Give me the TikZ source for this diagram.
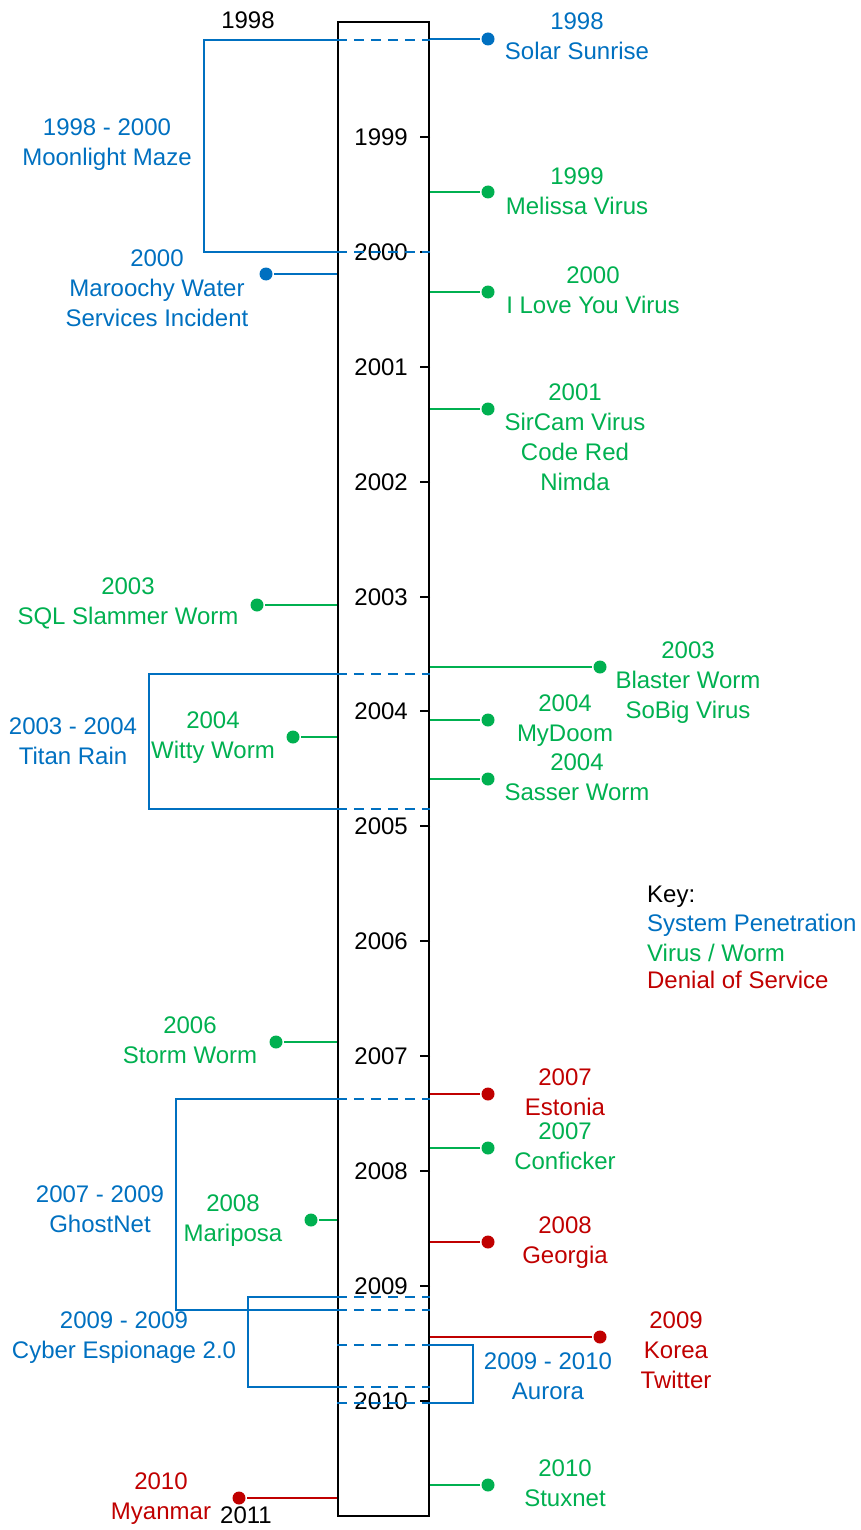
\documentclass[tikz,border=0pt]{standalone}
\usepackage{fontspec}
\setmainfont{Liberation Sans}
\definecolor{penBlue}{RGB}{0,112,192}
\definecolor{virGreen}{RGB}{0,176,80}
\definecolor{dosRed}{RGB}{192,0,0}
\tikzset{
	lbl/.style={inner sep=0pt, align=center, font=\fontsize{12}{15}\selectfont},
	dot/.style={circle, fill, inner sep=0pt, minimum size=6.5pt},
	span/.style={dash pattern=on 5pt off 3.5pt},
	thinlink/.style={line width=.6pt}
}
\begin{document}
\begin{tikzpicture}[x=.5pt, y=-.5pt, line width=1.15pt]
	\useasboundingbox (0,0) rectangle (861,1530);
	\node[draw, line width=1.2pt, inner sep=0pt, minimum width=45.5pt, minimum height=747pt] (axis) at (383.5,769) {};
	\node[lbl] (y1998) at (248,20) {1998};
	\node[lbl, anchor=east] (y1999) at (409,137) {1999};
	\node[lbl, anchor=east] (y2000) at (409,252) {2000};
	\node[lbl, anchor=east] (y2001) at (409,367) {2001};
	\node[lbl, anchor=east] (y2002) at (409,482) {2002};
	\node[lbl, anchor=east] (y2003) at (409,597) {2003};
	\node[lbl, anchor=east] (y2004) at (409,711) {2004};
	\node[lbl, anchor=east] (y2005) at (409,826) {2005};
	\node[lbl, anchor=east] (y2006) at (409,941) {2006};
	\node[lbl, anchor=east] (y2007) at (409,1056) {2007};
	\node[lbl, anchor=east] (y2008) at (409,1171) {2008};
	\node[lbl, anchor=east] (y2009) at (409,1286) {2009};
	\node[lbl, anchor=east] (y2010) at (409,1401) {2010};
	\node[lbl] (y2011) at (246,1515) {2011};
	\foreach \yr in {1999,2000,...,2010}
		\draw (axis.east |- y\yr) -- ++(-10,0);
	% system penetration
	\coordinate (mazeTop) at (204,40);
	\coordinate (mazeBot) at (204,252);
	\draw[penBlue] (axis.west |- mazeTop) -- (mazeTop) -- (mazeBot) -- (axis.west |- mazeBot);
	\draw[penBlue, span] (axis.west |- mazeTop) -- (axis.east |- mazeTop);
	\draw[penBlue, span] (axis.west |- mazeBot) -- (axis.east |- mazeBot);
	\node[lbl, penBlue] (mazeText) at (107,144.5) {1998 - 2000\\Moonlight Maze};
	\node[dot, penBlue] (solarDot) at (488,39) {};
	\draw[penBlue] (axis.east |- solarDot) -- (solarDot);
	\node[lbl, penBlue] (solarText) at (577,36.5) {1998\\Solar Sunrise};
	\node[dot, penBlue] (maroochyDot) at (266,274) {};
	\draw[penBlue] (axis.west |- maroochyDot) -- (maroochyDot);
	\node[lbl, penBlue] (maroochyText) at (157,288.3) {2000\\Maroochy Water\\Services Incident};
	\coordinate (titanTop) at (149,674);
	\coordinate (titanBot) at (149,809);
	\draw[penBlue] (axis.west |- titanTop) -- (titanTop) -- (titanBot) -- (axis.west |- titanBot);
	\draw[penBlue, span] (axis.west |- titanTop) -- (axis.east |- titanTop);
	\draw[penBlue, span] (axis.west |- titanBot) -- (axis.east |- titanBot);
	\node[lbl, penBlue] (titanText) at (73,741.5) {2003 - 2004\\Titan Rain};
	\coordinate (ghostTop) at (176,1099);
	\coordinate (ghostBot) at (176,1310);
	\draw[penBlue] (axis.west |- ghostTop) -- (ghostTop) -- (ghostBot) -- (axis.west |- ghostBot);
	\draw[penBlue, span] (axis.west |- ghostTop) -- (axis.east |- ghostTop);
	\draw[penBlue, span] (axis.west |- ghostBot) -- (axis.east |- ghostBot);
	\node[lbl, penBlue] (ghostText) at (100,1209.5) {2007 - 2009\\GhostNet};
	\coordinate (cyberTop) at (248,1297);
	\coordinate (cyberBot) at (248,1387);
	\draw[penBlue] (axis.west |- cyberTop) -- (cyberTop) -- (cyberBot) -- (axis.west |- cyberBot);
	\draw[penBlue, span] (axis.west |- cyberTop) -- (axis.east |- cyberTop);
	\draw[penBlue, span] (axis.west |- cyberBot) -- (axis.east |- cyberBot);
	\node[lbl, penBlue] (cyberText) at (124,1338) {2009 - 2009\\Cyber Espionage 2.0};
	\coordinate (auroraTop) at (473,1345);
	\coordinate (auroraBot) at (473,1403);
	\draw[penBlue] (axis.east |- auroraTop) -- (auroraTop) -- (auroraBot) -- (axis.east |- auroraBot);
	\draw[penBlue, span] (axis.west |- auroraTop) -- (axis.east |- auroraTop);
	\draw[penBlue, span] (axis.west |- auroraBot) -- (axis.east |- auroraBot);
	\node[lbl, penBlue] (auroraText) at (548,1376.5) {2009 - 2010\\Aurora};
	% virus / worm
	\node[dot, virGreen] (melissaDot) at (488,192) {};
	\draw[virGreen] (axis.east |- melissaDot) -- (melissaDot);
	\node[lbl, virGreen] (melissaText) at (577,191) {1999\\Melissa Virus};
	\node[dot, virGreen] (loveDot) at (488,292) {};
	\draw[virGreen] (axis.east |- loveDot) -- (loveDot);
	\node[lbl, virGreen] (loveText) at (593,290.5) {2000\\I Love You Virus};
	\node[dot, virGreen] (sircamDot) at (488,409) {};
	\draw[virGreen] (axis.east |- sircamDot) -- (sircamDot);
	\node[lbl, virGreen] (sircamText) at (575,437) {2001\\SirCam Virus\\Code Red\\Nimda};
	\node[dot, virGreen] (slammerDot) at (257,605) {};
	\draw[virGreen] (axis.west |- slammerDot) -- (slammerDot);
	\node[lbl, virGreen] (slammerText) at (128,603.5) {2003\\SQL Slammer Worm};
	\node[dot, virGreen] (blasterDot) at (600,667) {};
	\draw[virGreen] (axis.east |- blasterDot) -- (blasterDot);
	\node[lbl, virGreen] (blasterText) at (688,683) {2003\\Blaster Worm\\SoBig Virus};
	\node[dot, virGreen] (mydoomDot) at (488,720) {};
	\draw[virGreen] (axis.east |- mydoomDot) -- (mydoomDot);
	\node[lbl, virGreen] (mydoomText) at (565,721) {2004\\MyDoom};
	\node[dot, virGreen] (wittyDot) at (293,737) {};
	\draw[virGreen, thinlink] (axis.west |- wittyDot) -- (wittyDot);
	\node[lbl, virGreen] (wittyText) at (213,738) {2004\\Witty Worm};
	\node[dot, virGreen] (sasserDot) at (488,779) {};
	\draw[virGreen] (axis.east |- sasserDot) -- (sasserDot);
	\node[lbl, virGreen] (sasserText) at (577,777.5) {2004\\Sasser Worm};
	\node[dot, virGreen] (stormDot) at (276,1042) {};
	\draw[virGreen] (axis.west |- stormDot) -- (stormDot);
	\node[lbl, virGreen] (stormText) at (190,1040.5) {2006\\Storm Worm};
	\node[dot, virGreen] (confickerDot) at (488,1148) {};
	\draw[virGreen] (axis.east |- confickerDot) -- (confickerDot);
	\node[lbl, virGreen] (confickerText) at (565,1146) {2007\\Conficker};
	\node[dot, virGreen] (mariposaDot) at (311,1220) {};
	\draw[virGreen, thinlink] (axis.west |- mariposaDot) -- (mariposaDot);
	\node[lbl, virGreen] (mariposaText) at (233,1221) {2008\\Mariposa};
	\node[dot, virGreen] (stuxnetDot) at (488,1485) {};
	\draw[virGreen] (axis.east |- stuxnetDot) -- (stuxnetDot);
	\node[lbl, virGreen] (stuxnetText) at (565,1483) {2010\\Stuxnet};
	% denial of service
	\node[dot, dosRed] (estoniaDot) at (488,1094) {};
	\draw[dosRed] (axis.east |- estoniaDot) -- (estoniaDot);
	\node[lbl, dosRed] (estoniaText) at (565,1092.5) {2007\\Estonia};
	\node[dot, dosRed] (georgiaDot) at (488,1242) {};
	\draw[dosRed] (axis.east |- georgiaDot) -- (georgiaDot);
	\node[lbl, dosRed] (georgiaText) at (565,1243) {2008\\Georgia};
	\node[dot, dosRed] (koreaDot) at (600,1337) {};
	\draw[dosRed] (axis.east |- koreaDot) -- (koreaDot);
	\node[lbl, dosRed] (koreaText) at (676,1350) {2009\\Korea\\Twitter};
	\node[dot, dosRed] (myanmarDot) at (239,1498) {};
	\draw[dosRed] (axis.west |- myanmarDot) -- (myanmarDot);
	\node[lbl, dosRed] (myanmarText) at (161,1499) {2010\\Myanmar};
	% key
	\node[lbl, anchor=west] (keyText) at (646,897) {Key:};
	\node[lbl, anchor=west, penBlue] (keyPen) at (646,925) {System Penetration};
	\node[lbl, anchor=west, virGreen] (keyVir) at (646,952.5) {Virus / Worm};
	\node[lbl, anchor=west, dosRed] (keyDos) at (646,980) {Denial of Service};
\end{tikzpicture}
\end{document}
